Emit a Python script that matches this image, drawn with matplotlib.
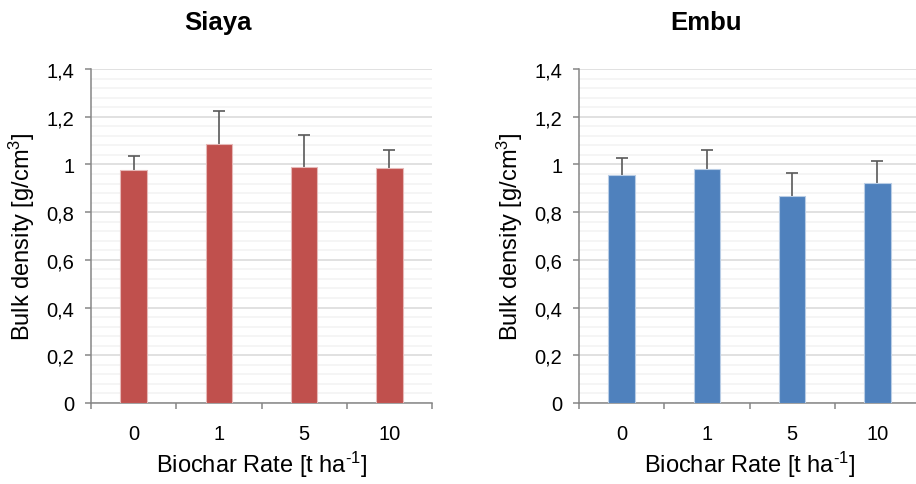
import matplotlib
matplotlib.use("Agg")
import matplotlib.pyplot as plt
from matplotlib.ticker import MultipleLocator, FixedLocator, FuncFormatter, NullFormatter

plt.rcParams["font.family"] = ["Liberation Sans", "DejaVu Sans"]
plt.rcParams["mathtext.fontset"] = "custom"
plt.rcParams["mathtext.rm"] = "Liberation Sans"
plt.rcParams["mathtext.it"] = "Liberation Sans:italic"
plt.rcParams["mathtext.bf"] = "Liberation Sans:bold"

# Biochar application rates (categories)
rates = ["0", "1", "5", "10"]

# Mean bulk density and standard error per site
siaya_mean = [0.977, 1.085, 0.989, 0.986]
siaya_err = [0.057, 0.137, 0.134, 0.073]
embu_mean = [0.954, 0.981, 0.868, 0.922]
embu_err = [0.074, 0.078, 0.096, 0.091]

sites = ["Siaya", "Embu"]
colors = ["#C0504D", "#4F81BD"]
edges = ["#E6B9B8", "#B9CDE5"]

W, H = 916, 485
fig = plt.figure(figsize=(W / 100, H / 100), dpi=100)

ax_left_px = [91, 579]
ax_w_px = 341
ax_top_px, ax_bot_px = 70, 404

spine_col = "#868686"
text_col = "#000000"


def comma_fmt(v, pos):
    s = f"{v:.1f}".rstrip("0").rstrip(".")
    return s.replace(".", ",")


for i, (site, means, errs) in enumerate(
    [("Siaya", siaya_mean, siaya_err), ("Embu", embu_mean, embu_err)]
):
    left = ax_left_px[i] / W
    bottom = (H - ax_bot_px) / H
    ax = fig.add_axes([left, bottom, ax_w_px / W, (ax_bot_px - ax_top_px) / H])
    x = list(range(len(rates)))
    ax.bar(x, means, width=0.31, color=colors[i], edgecolor=edges[i],
           linewidth=0.8, zorder=3)
    # upper error bars only
    eb = ax.errorbar(x, means, yerr=[[0] * len(errs), errs], fmt="none",
                     ecolor="#595959", elinewidth=1.2, capsize=4, capthick=1.2,
                     zorder=2.5)
    caplines = eb[1]
    if len(caplines) == 2:
        caplines[0].set_visible(False)

    ax.set_xlim(-0.5, len(rates) - 0.5)
    ax.set_ylim(0, 1.4)

    # y axis: major grid every 0.2, faint minor grid every 0.04
    ax.yaxis.set_major_locator(MultipleLocator(0.2))
    ax.yaxis.set_minor_locator(MultipleLocator(0.04))
    ax.yaxis.set_major_formatter(FuncFormatter(comma_fmt))
    ax.grid(axis="y", which="major", color="#D9D9D9", linewidth=1.1, zorder=0)
    ax.grid(axis="y", which="minor", color="#F2F2F2", linewidth=1.1, zorder=0)
    ax.set_axisbelow(True)
    ax.tick_params(axis="y", which="major", direction="out", length=4,
                   width=1.1, color=spine_col, labelsize=14.5, pad=8,
                   labelcolor=text_col)
    ax.tick_params(axis="y", which="minor", length=0)

    # x axis: labels centred on bars, tick marks on category boundaries
    ax.xaxis.set_major_locator(FixedLocator(x))
    ax.set_xticklabels(rates)
    ax.xaxis.set_minor_locator(FixedLocator([k - 0.5 for k in range(len(rates) + 1)]))
    ax.xaxis.set_minor_formatter(NullFormatter())
    ax.tick_params(axis="x", which="major", length=0, labelsize=14.5, pad=15,
                   labelcolor=text_col)
    ax.tick_params(axis="x", which="minor", direction="out", length=4,
                   width=1.1, color=spine_col)

    for s in ["top", "right"]:
        ax.spines[s].set_visible(False)
    for s in ["left", "bottom"]:
        ax.spines[s].set_color(spine_col)
        ax.spines[s].set_linewidth(1.1)

    ax.set_xlabel(r"Biochar Rate [t ha$^{\text{-1}}$]", fontsize=17,
                  color=text_col)
    ax.xaxis.set_label_coords(0.5, -(465 - ax_bot_px) / (ax_bot_px - ax_top_px),
                              transform=ax.transAxes)
    ax.xaxis.label.set_va("center")
    ax.set_ylabel(r"Bulk density [g/cm$^{\mathregular{3}}$]", fontsize=17,
                  color=text_col)
    ax.yaxis.set_label_coords(-(ax_left_px[i] - (22 + 488 * i)) / ax_w_px, 0.5,
                              transform=ax.transAxes)
    ax.yaxis.label.set_va("center")

    fig.text((218 + 488 * i) / W, 1 - 23 / H, site, ha="center", va="center",
             fontsize=18.5, fontweight="bold", color=text_col)

fig.savefig("out.png", dpi=100)
